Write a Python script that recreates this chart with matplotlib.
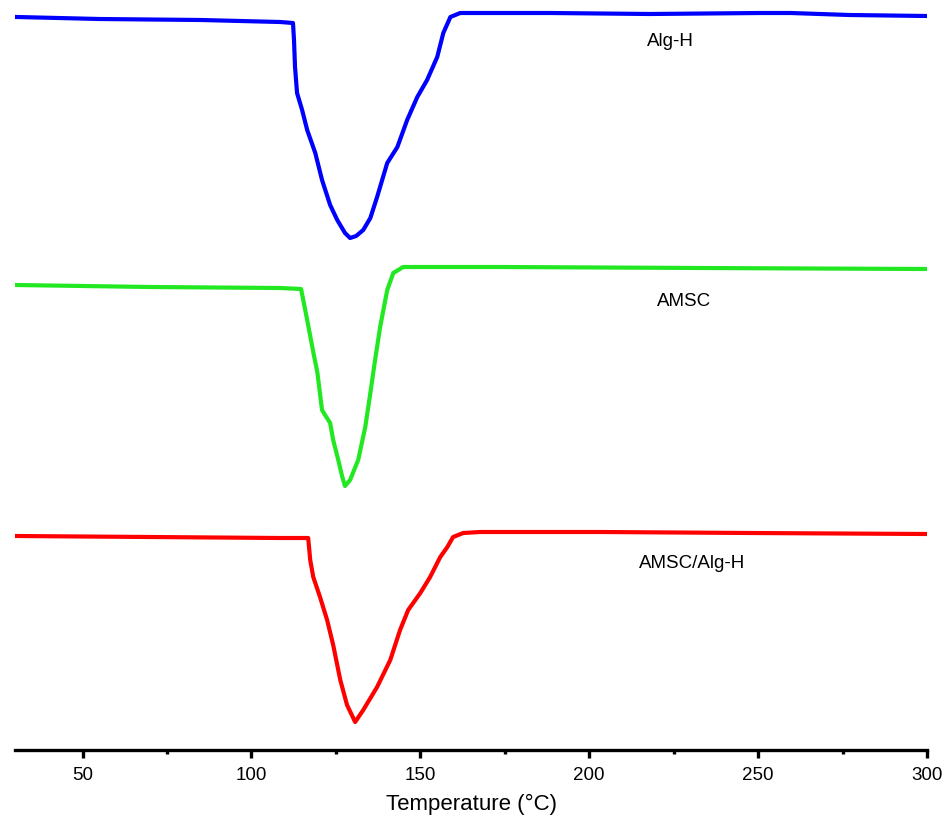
import numpy as np
import matplotlib
matplotlib.use("Agg")
import matplotlib.pyplot as plt
from matplotlib.ticker import MultipleLocator

plt.rcParams['font.family'] = ['Liberation Sans', 'DejaVu Sans']

# DSC curves (heat flow in arbitrary units, stacked)
t_alg = [30.6, 55, 85, 108.5, 112.3, 112.6, 112.9, 113.5, 115.0, 116.5, 118.9, 120.9,
         123.3, 125.4, 127.7, 129.2, 131.0, 133.1, 135.2, 137.2, 140.2, 143.2, 146.1,
         149.1, 152.0, 155.0, 156.8, 158.9, 161.8, 165, 188.5, 218, 250.7, 259.6, 277, 300]
y_alg = [733, 731, 730, 728, 727, 710, 683, 657, 640, 620, 597, 570,
         545, 530, 517, 512, 514, 520, 532, 553, 587, 603, 630,
         653, 670, 693, 717, 733, 737, 737, 737, 736, 737, 737, 735, 734]

t_amsc = [30, 70, 108.5, 114.7, 116.5, 118.3, 119.5, 120.9, 121.8, 123.3, 124.2, 125.7,
          126.9, 127.7, 129.2, 131.6, 133.7, 135.2, 136.6, 138.1, 140.2, 142.0, 144.9,
          173.7, 232.9, 300]
y_amsc = [465, 463, 462, 461, 430, 398, 378, 340, 335, 327, 310, 290,
          273, 264, 270, 290, 323, 357, 390, 423, 460, 477, 483,
          483, 482, 481]

t_mix = [30, 70, 108.5, 116.8, 117.4, 118.3, 120.3, 122.4, 124.2, 126.3, 128.3,
         130.7, 133.1, 137.2, 141.1, 144.0, 146.4, 150.0, 152.9, 155.9, 158.0, 159.7,
         162.7, 167.7, 203.3, 247.7, 300]
y_mix = [214, 213, 212, 212, 190, 173, 153, 130, 105, 70, 45,
         28, 40, 63, 90, 120, 140, 157, 173, 193, 203, 213,
         217, 218, 218, 217, 216]

labels = ['Alg-H', 'AMSC', 'AMSC/Alg-H']
colors = ['#0000ff', '#22e822', '#ff0000']

fig = plt.figure(figsize=(9.5, 8.27), dpi=100)
ax = fig.add_axes([15 / 950, 77 / 827, 912 / 950, 750 / 827])

for t, y, c in zip([t_alg, t_amsc, t_mix], [y_alg, y_amsc, y_mix], colors):
    ax.plot(t, y, color=c, lw=3, solid_joinstyle='round')

ax.text(224, 708, labels[0], fontsize=13.5, ha='center', va='center')
ax.text(228, 449, labels[1], fontsize=13.5, ha='center', va='center')
ax.text(230.5, 187, labels[2], fontsize=13.5, ha='center', va='center')

ax.set_xlim(30, 300)
ax.set_ylim(0, 750)
for s in ['left', 'right', 'top']:
    ax.spines[s].set_visible(False)
ax.spines['bottom'].set_linewidth(2.4)
ax.set_yticks([])
ax.xaxis.set_major_locator(MultipleLocator(50))
ax.xaxis.set_minor_locator(MultipleLocator(25))
ax.set_xticks([50, 100, 150, 200, 250, 300])
ax.tick_params(axis='x', which='major', direction='out', length=6, width=2.4,
               labelsize=13.5, pad=6)
ax.tick_params(axis='x', which='minor', direction='out', length=3, width=2.4)
ax.set_xlabel('Temperature (°C)', fontsize=16, labelpad=7)

fig.savefig('out.png', dpi=100)
